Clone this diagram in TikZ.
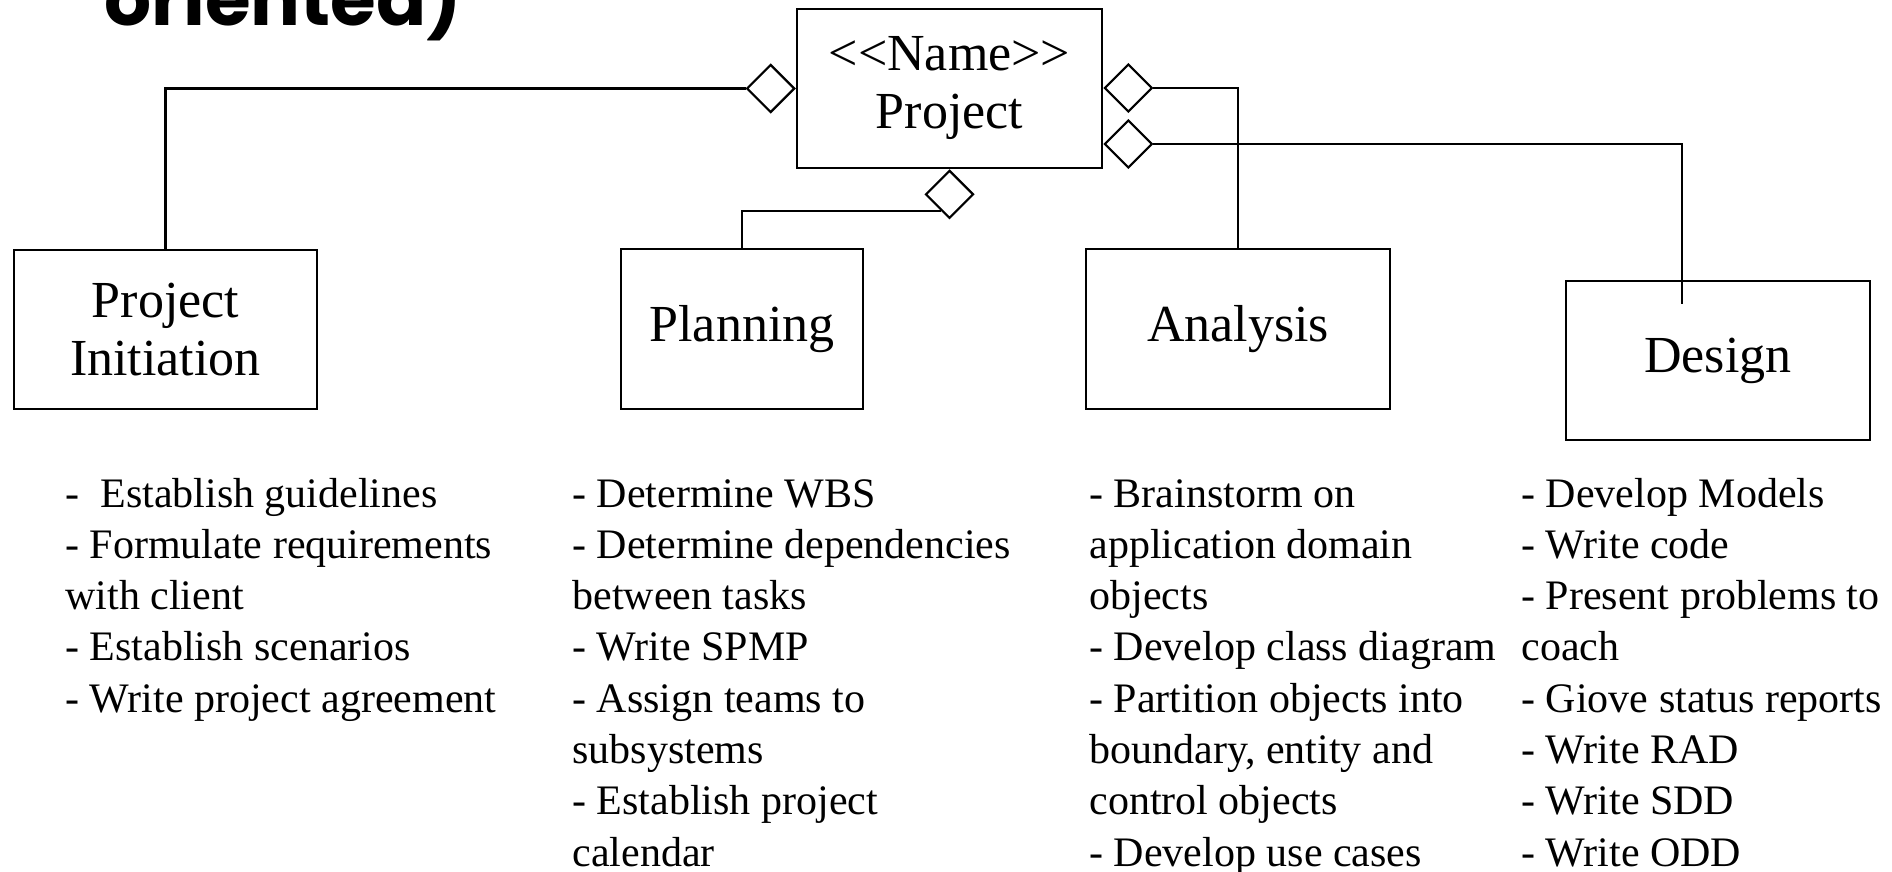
\documentclass[tikz,border=0pt]{standalone}
\usepackage{fontspec}
\setmainfont{Liberation Serif}
\newfontfamily\titlefont{Poppins}
\usetikzlibrary{shapes.geometric,calc}
\tikzset{
  box/.style={draw, line width=1.25pt, inner sep=0pt, align=center, font=\fontsize{26}{29}\selectfont},
  agg/.style={diamond, draw, fill=white, line width=1.1pt, minimum width=24pt, minimum height=24pt, inner sep=0pt},
  item/.style={anchor=base west, inner sep=0pt, font=\fontsize{21}{25}\selectfont},
  conn/.style={line width=1.1pt},
  titletext/.style={anchor=base west, inner sep=0pt, font=\titlefont\bfseries\fontsize{37}{40}\selectfont}
}
\newcommand\itemcol[3]{\foreach \t [count=\i] in {#3} {\node[item] (#1-\i) at (#2,{507+51.3*(\i-1)}) {\t};}}
\begin{document}
\begin{tikzpicture}[x=0.5pt,y=-0.5pt]
\fill[white] (0,0) rectangle (1892,872);
\clip (0,0) rectangle (1892,872);

\node[titletext] (title) at (104,26) {oriented)};

\node[box, minimum width=152.5pt, minimum height=79.5pt] (proj) at (949.5,88.5) {\textless\kern0pt\textless\kern0pt Name\kern0pt\textgreater\kern0pt\textgreater\\Project};
\node[box, minimum width=151.5pt, minimum height=79.5pt] (pi) at (165.5,329.5) {Project\\Initiation};
\node[box, minimum width=121pt, minimum height=80pt] (plan) at (742,329) {Planning};
\node[box, minimum width=152pt, minimum height=80pt] (an) at (1238,329) {Analysis};
\node[box, minimum width=152pt, minimum height=79.5pt] (des) at (1718,360.5) {Design};

\node[agg, anchor=east] (dL) at (proj.west) {};
\node[agg, anchor=west] (dA) at ([yshift=0.25pt]proj.east) {};
\node[agg, anchor=west] (dD) at ([yshift=-27.75pt]proj.east) {};
\node[agg, anchor=north] (dB) at (proj.south) {};

\draw[conn] (dL.west) -| (pi.north);
\draw[conn] ($(dB.west)!0.667!(dB.south)$) -| (plan.north);
\draw[conn] (dA.east) -| (an.north);
\coordinate (dend) at (1682,304);
\draw[conn] (dD.east) -| (dend);

\itemcol{c1}{65}{{-~~Establish guidelines},{- Formulate requirements},{with client},{- Establish scenarios},{- Write project agreement}}
\itemcol{c2}{572}{{- Determine WBS},{- Determine dependencies},{between tasks},{- Write SPMP},{- Assign teams to},{subsystems},{- Establish project},{calendar}}
\itemcol{c3}{1089}{{- Brainstorm on},{application domain},{objects},{- Develop class diagram},{- Partition objects into},{boundary, entity and},{control objects},{- Develop use cases}}
\itemcol{c4}{1521}{{- Develop Models},{- Write code},{- Present problems to},{coach},{- Giove status reports},{- Write RAD},{- Write SDD},{- Write ODD}}
\end{tikzpicture}
\end{document}
